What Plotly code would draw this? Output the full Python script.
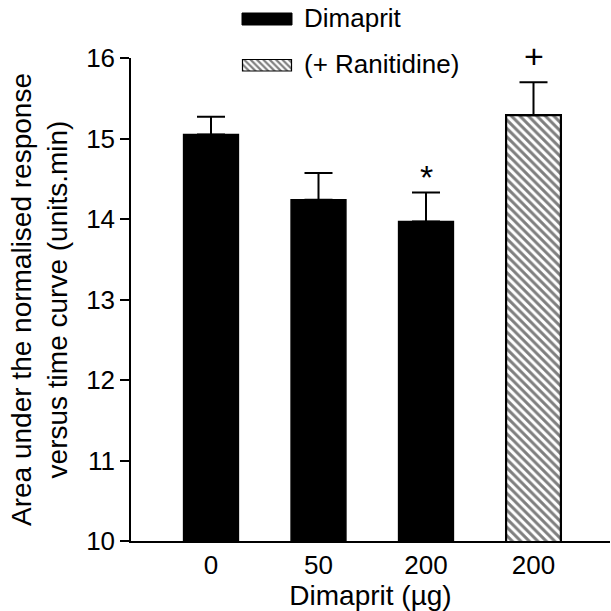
import plotly.graph_objects as go

# ---- data ----
categories = ["0", "50", "200", "200"]
groups = ["Dimaprit", "Dimaprit", "Dimaprit", "(+ Ranitidine)"]
means = [15.05, 14.24, 13.97, 15.29]
sem = [0.22, 0.33, 0.36, 0.41]
sig_marks = ["", "", "*", "+"]
y_ticks = [10, 11, 12, 13, 14, 15, 16]
legend_labels = ["Dimaprit", "(+ Ranitidine)"]

W = H = 611
FONT = "Liberation Sans, Arial, Helvetica, sans-serif"

xpos = list(range(len(categories)))
fig = go.Figure()

solid_idx = [i for i, g in enumerate(groups) if g == "Dimaprit"]
hatch_idx = [i for i, g in enumerate(groups) if g != "Dimaprit"]

err_style = dict(type="data", symmetric=False, color="black", thickness=2, width=14)

fig.add_trace(go.Bar(
    x=[xpos[i] for i in solid_idx], y=[means[i] for i in solid_idx],
    base=0, width=0.51,
    marker=dict(color="black", line=dict(color="black", width=1.5)),
    error_y=dict(array=[sem[i] for i in solid_idx], arrayminus=[0] * len(solid_idx), **err_style),
    showlegend=False, xaxis="x", yaxis="y"))

fig.add_trace(go.Bar(
    x=[xpos[i] for i in hatch_idx], y=[means[i] for i in hatch_idx],
    base=0, width=0.51,
    marker=dict(color="white", line=dict(color="black", width=2.2),
                pattern=dict(shape="\\", fgcolor="black", bgcolor="white", size=6, solidity=0.5)),
    error_y=dict(array=[sem[i] for i in hatch_idx], arrayminus=[0] * len(hatch_idx), **err_style),
    showlegend=False, xaxis="x", yaxis="y"))

# significance marks
for i, m in enumerate(sig_marks):
    if m:
        fig.add_annotation(x=xpos[i], y=means[i] + sem[i], text=m, showarrow=False,
                           yanchor="middle", yshift=15 if m == "*" else 26,
                           font=dict(size=34, family=FONT, color="black"),
                           xref="x", yref="y")

# ---- custom legend on a pixel-space overlay axis ----
fig.add_trace(go.Bar(x=[267], y=[12], base=[13], width=[50],
                     marker=dict(color="black", line=dict(color="black", width=1)),
                     showlegend=False, xaxis="x2", yaxis="y2", hoverinfo="skip"))
fig.add_trace(go.Bar(x=[267], y=[11.5], base=[59.5], width=[49],
                     marker=dict(color="white", line=dict(color="black", width=1.2),
                                 pattern=dict(shape="\\", fgcolor="black", bgcolor="white", size=4.5, solidity=0.5)),
                     showlegend=False, xaxis="x2", yaxis="y2", hoverinfo="skip"))
for lbl, yy in zip(legend_labels, [18, 64]):
    fig.add_annotation(x=302, y=yy, text=lbl, showarrow=False, xanchor="left", yanchor="middle",
                       font=dict(size=26, family=FONT, color="black"), xref="x2", yref="y2")

left, right, top, bottom = 131, 610, 58, 541
step = 107.5
x0 = -(211 - left) / step
x1 = x0 + (right - left) / step

fig.update_layout(
    width=W, height=H,
    margin=dict(l=0, r=0, t=0, b=0),
    paper_bgcolor="white", plot_bgcolor="rgba(0,0,0,0)",
    font=dict(family=FONT, color="black"),
    barmode="overlay",
    xaxis=dict(domain=[left / W, right / W], range=[x0, x1],
               tickvals=xpos, ticktext=categories, ticks="",
               showline=True, linecolor="black", linewidth=1.5, showgrid=False, zeroline=False,
               tickfont=dict(size=26, family=FONT), ticklabelstandoff=0,
               title=dict(text="Dimaprit (µg)", font=dict(size=28, family=FONT), standoff=1),
               anchor="y", automargin=False),
    yaxis=dict(domain=[1 - bottom / H, 1 - top / H], range=[10, 16],
               tickvals=y_ticks, ticks="outside", ticklen=9, tickwidth=1.5, tickcolor="black",
               showline=True, linecolor="black", linewidth=1.5, showgrid=False, zeroline=False,
               tickfont=dict(size=26, family=FONT),
               title=dict(text="Area under the normalised response<br>versus time curve (units.min)",
                          font=dict(size=28, family=FONT), standoff=10),
               anchor="x", automargin=False),
    xaxis2=dict(domain=[0, 1], range=[0, W], visible=False, anchor="y2", fixedrange=True),
    yaxis2=dict(domain=[0, 1], range=[H, 0], visible=False, anchor="x2", fixedrange=True),
)

fig.write_html("out.html")
